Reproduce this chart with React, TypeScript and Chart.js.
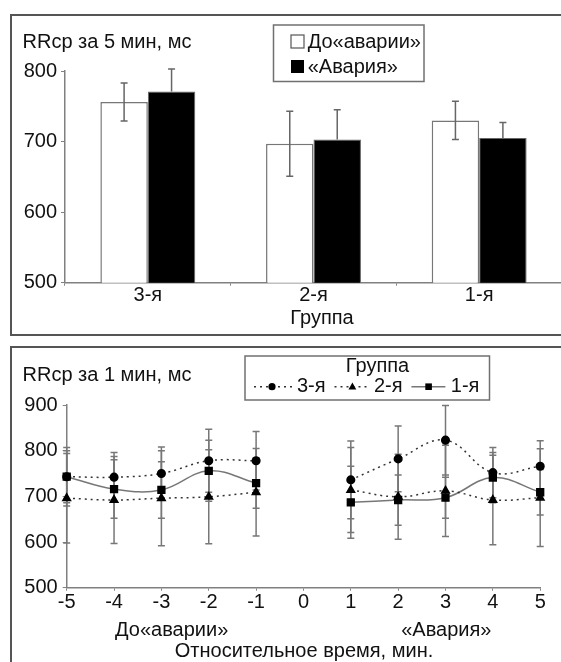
import React, { useEffect, useRef } from 'react';
import { Chart, registerables } from 'chart.js';
Chart.register(...registerables);

// ---------- data ----------
const groups = ['3-я', '2-я', '1-я'];
const beforeMeans = [756, 697, 730];
const beforeErr = [27, 46, 27];
const accidentMeans = [771, 703, 705];
const accidentErr = [32, 42, 22];

const minutes = [-5, -4, -3, -2, -1, 0, 1, 2, 3, 4, 5];
const g3Means = [743, 742, 750, 778, 778, null, 736, 782, 823, 752, 766];
const g3Err = [64, 54, 58, 69, 64, null, 85, 72, 76, 55, 56];
const g2Means = [696, 692, 696, 699, 709, null, 714, 699, 712, 692, 697];
const g2Err = [98, 95, 104, 103, 96, null, 93, 93, 100, 98, 107];
const g1Means = [743, 716, 714, 756, 729, null, 687, 692, 697, 741, 709];
const g1Err = [57, 64, 62, 67, 55, null, 79, 55, 45, 55, 50];

const FONT = '"Liberation Sans", Arial, sans-serif';
const TXT = '#111';
const AX = '#808080';

type TextItem = { t: string; x: number; y: number; align?: CanvasTextAlign };

const textPlugin = (id: string, items: TextItem[], extra?: (ctx: CanvasRenderingContext2D) => void) => ({
  id,
  afterDraw(chart: any) {
    const ctx: CanvasRenderingContext2D = chart.ctx;
    ctx.save();
    if (extra) extra(ctx);
    ctx.font = `20px ${FONT}`;
    ctx.fillStyle = TXT;
    ctx.textBaseline = 'middle';
    for (const it of items) {
      ctx.textAlign = it.align || 'left';
      ctx.fillText(it.t, it.x, it.y);
    }
    ctx.restore();
  },
});

const errorPlugin = (id: string, errs: (number | null)[][], upOnly: boolean[], color: string, capHalf: number, before: boolean) => {
  const draw = (chart: any) => {
    const ctx: CanvasRenderingContext2D = chart.ctx;
    const ys = chart.scales.y;
    ctx.save();
    ctx.strokeStyle = color;
    ctx.lineWidth = 1.5;
    chart.data.datasets.forEach((ds: any, i: number) => {
      const meta = chart.getDatasetMeta(i);
      meta.data.forEach((el: any, j: number) => {
        const raw = ds.data[j];
        const v = typeof raw === 'object' && raw !== null ? raw.y : raw;
        const e = errs[i][j];
        if (v == null || e == null) return;
        const x = el.x;
        const yTop = ys.getPixelForValue(v + e);
        const yMid = ys.getPixelForValue(v);
        const yBot = upOnly[i] ? yMid : ys.getPixelForValue(v - e);
        ctx.beginPath();
        ctx.moveTo(x, yTop);
        ctx.lineTo(x, yBot);
        ctx.moveTo(x - capHalf, yTop);
        ctx.lineTo(x + capHalf, yTop);
        if (!upOnly[i]) {
          ctx.moveTo(x - capHalf, yBot);
          ctx.lineTo(x + capHalf, yBot);
        }
        ctx.stroke();
      });
    });
    ctx.restore();
  };
  return before ? { id, beforeDatasetsDraw: draw } : { id, afterDatasetsDraw: draw };
};

function TopChart() {
  const ref = useRef<HTMLCanvasElement>(null);
  useEffect(() => {
    const legendDraw = (ctx: CanvasRenderingContext2D) => {
      ctx.strokeStyle = '#707070';
      ctx.lineWidth = 1.5;
      ctx.strokeRect(273.5, 25, 150.5, 56.5);
      ctx.fillStyle = '#fff';
      ctx.fillRect(291, 35, 13, 13);
      ctx.strokeStyle = '#555';
      ctx.lineWidth = 1.2;
      ctx.strokeRect(291, 35, 13, 13);
      ctx.fillStyle = '#000';
      ctx.fillRect(291, 60, 13, 13);
    };
    const chart = new Chart(ref.current!, {
      type: 'bar',
      data: {
        labels: groups,
        datasets: [
          { label: 'До«аварии»', data: beforeMeans, backgroundColor: '#fff', borderColor: '#777', borderWidth: 1.5 },
          { label: '«Авария»', data: accidentMeans, backgroundColor: '#000', borderColor: '#666', borderWidth: 1 },
        ],
      },
      options: {
        responsive: false,
        animation: false,
        layout: { padding: { top: 71, right: 38, left: 0, bottom: 0 } },
        plugins: { legend: { display: false }, tooltip: { enabled: false } },
        datasets: { bar: { categoryPercentage: 0.573, barPercentage: 1 } },
        scales: {
          x: {
            grid: { display: true, drawOnChartArea: false, tickLength: 3, color: AX, offset: true },
            border: { color: AX, width: 1.5 },
            ticks: { font: { size: 20, family: FONT, lineHeight: 1 }, color: TXT, padding: 0 },
            afterFit: (s: any) => { s.height = 57.3; },
          },
          y: {
            min: 500,
            max: 800,
            grid: { drawOnChartArea: false, tickLength: 4, color: AX },
            border: { color: AX, width: 1.5 },
            ticks: { stepSize: 100, font: { size: 20, family: FONT }, color: TXT, padding: 4 },
            afterFit: (s: any) => { s.width = 65; },
          },
        },
      } as any,
      plugins: [
        errorPlugin('errTop', [beforeErr, accidentErr], [false, true], '#666', 3.5, false),
        textPlugin('txtTop', [
          { t: 'RRср за 5 мин, мс', x: 22.5, y: 42 },
          { t: 'Группа', x: 322, y: 318, align: 'center' },
          { t: 'До«аварии»', x: 307.7, y: 42 },
          { t: '«Авария»', x: 307.7, y: 67 },
        ], legendDraw),
      ],
    });
    return () => chart.destroy();
  }, []);
  return <canvas ref={ref} width={600} height={340} style={{ position: 'absolute', left: 0, top: 0, width: 600, height: 340 }} />;
}

function BottomChart() {
  const ref = useRef<HTMLCanvasElement>(null);
  useEffect(() => {
    const pts = (arr: (number | null)[]) => minutes.map((m, i) => ({ x: m, y: arr[i] }));
    const legendDraw = (ctx: CanvasRenderingContext2D) => {
      ctx.strokeStyle = '#707070';
      ctx.lineWidth = 1.5;
      ctx.strokeRect(245, 16, 244.5, 44);
      const y = 46.7;
      ctx.lineWidth = 1.5;
      ctx.strokeStyle = '#333';
      ctx.setLineDash([2, 4]);
      ctx.beginPath(); ctx.moveTo(254, y); ctx.lineTo(292, y); ctx.stroke();
      ctx.beginPath(); ctx.moveTo(334.5, y); ctx.lineTo(368.5, y); ctx.stroke();
      ctx.setLineDash([]);
      ctx.strokeStyle = '#777';
      ctx.beginPath(); ctx.moveTo(411.4, y); ctx.lineTo(445.4, y); ctx.stroke();
      ctx.fillStyle = '#000';
      ctx.beginPath(); ctx.arc(272, y, 3.6, 0, Math.PI * 2); ctx.fill();
      ctx.beginPath(); ctx.moveTo(352.4, y - 4.2); ctx.lineTo(356.3, y + 2.8); ctx.lineTo(348.5, y + 2.8); ctx.closePath(); ctx.fill();
      ctx.fillRect(425.3, y - 3.3, 6.6, 6.6);
    };
    const chart = new Chart(ref.current!, {
      type: 'line',
      data: {
        datasets: [
          { label: '3-я', data: pts(g3Means), borderColor: '#333', borderWidth: 1.5, borderDash: [2, 4], pointStyle: 'circle', pointRadius: 3.8, pointBackgroundColor: '#000', pointBorderColor: '#000', tension: 0.4, clip: false },
          { label: '2-я', data: pts(g2Means), borderColor: '#333', borderWidth: 1.5, borderDash: [2, 4], pointStyle: 'triangle', pointRadius: 4.4, pointBackgroundColor: '#000', pointBorderColor: '#000', tension: 0.4, clip: false },
          { label: '1-я', data: pts(g1Means), borderColor: '#777', borderWidth: 1.5, pointStyle: 'rect', pointRadius: 4.8, pointBackgroundColor: '#000', pointBorderColor: '#000', tension: 0.4, clip: false },
        ],
      },
      options: {
        responsive: false,
        animation: false,
        spanGaps: false,
        layout: { padding: { top: 65, right: 20.8, left: 0, bottom: 0 } },
        plugins: { legend: { display: false }, tooltip: { enabled: false } },
        scales: {
          x: {
            type: 'linear',
            min: -5,
            max: 5,
            grid: { display: true, drawOnChartArea: false, tickLength: 3, color: AX },
            border: { color: AX, width: 1.5 },
            ticks: { stepSize: 1, font: { size: 20, family: FONT, lineHeight: 1 }, color: TXT, padding: 2 },
            afterFit: (s: any) => { s.height = 74.3; },
          },
          y: {
            min: 500,
            max: 900,
            grid: { drawOnChartArea: false, tickLength: 4, color: AX },
            border: { color: AX, width: 1.5 },
            ticks: { stepSize: 100, font: { size: 20, family: FONT }, color: TXT, padding: 5 },
            afterFit: (s: any) => { s.width = 66.7; },
          },
        },
      } as any,
      plugins: [
        errorPlugin('errBot', [g3Err, g2Err, g1Err], [false, false, false], '#777', 3.5, true),
        textPlugin('txtBot', [
          { t: 'RRср за 1 мин, мс', x: 22.5, y: 35 },
          { t: 'Группа', x: 377.5, y: 26.7, align: 'center' },
          { t: '3-я', x: 297, y: 46.7 },
          { t: '2-я', x: 373.9, y: 46.7 },
          { t: '1-я', x: 450.8, y: 46.7 },
          { t: 'До«аварии»', x: 171.7, y: 290, align: 'center' },
          { t: '«Авария»', x: 446.3, y: 290, align: 'center' },
          { t: 'Относительное время, мин.', x: 304, y: 311.7, align: 'center' },
        ], legendDraw),
      ],
    });
    return () => chart.destroy();
  }, []);
  return <canvas ref={ref} width={561} height={322} style={{ position: 'absolute', left: 0, top: 340, width: 561, height: 322 }} />;
}

export default function App() {
  return (
    <div style={{ position: 'relative', width: 561, height: 662, overflow: 'hidden', background: '#fff' }}>
      <style>{'body{margin:0}'}</style>
      <div style={{ position: 'absolute', left: 10, top: 14, width: 800, height: 322, border: '2px solid #555', boxSizing: 'border-box' }} />
      <div style={{ position: 'absolute', left: 10, top: 346, width: 800, height: 400, border: '2px solid #555', boxSizing: 'border-box' }} />
      <TopChart />
      <BottomChart />
    </div>
  );
}
